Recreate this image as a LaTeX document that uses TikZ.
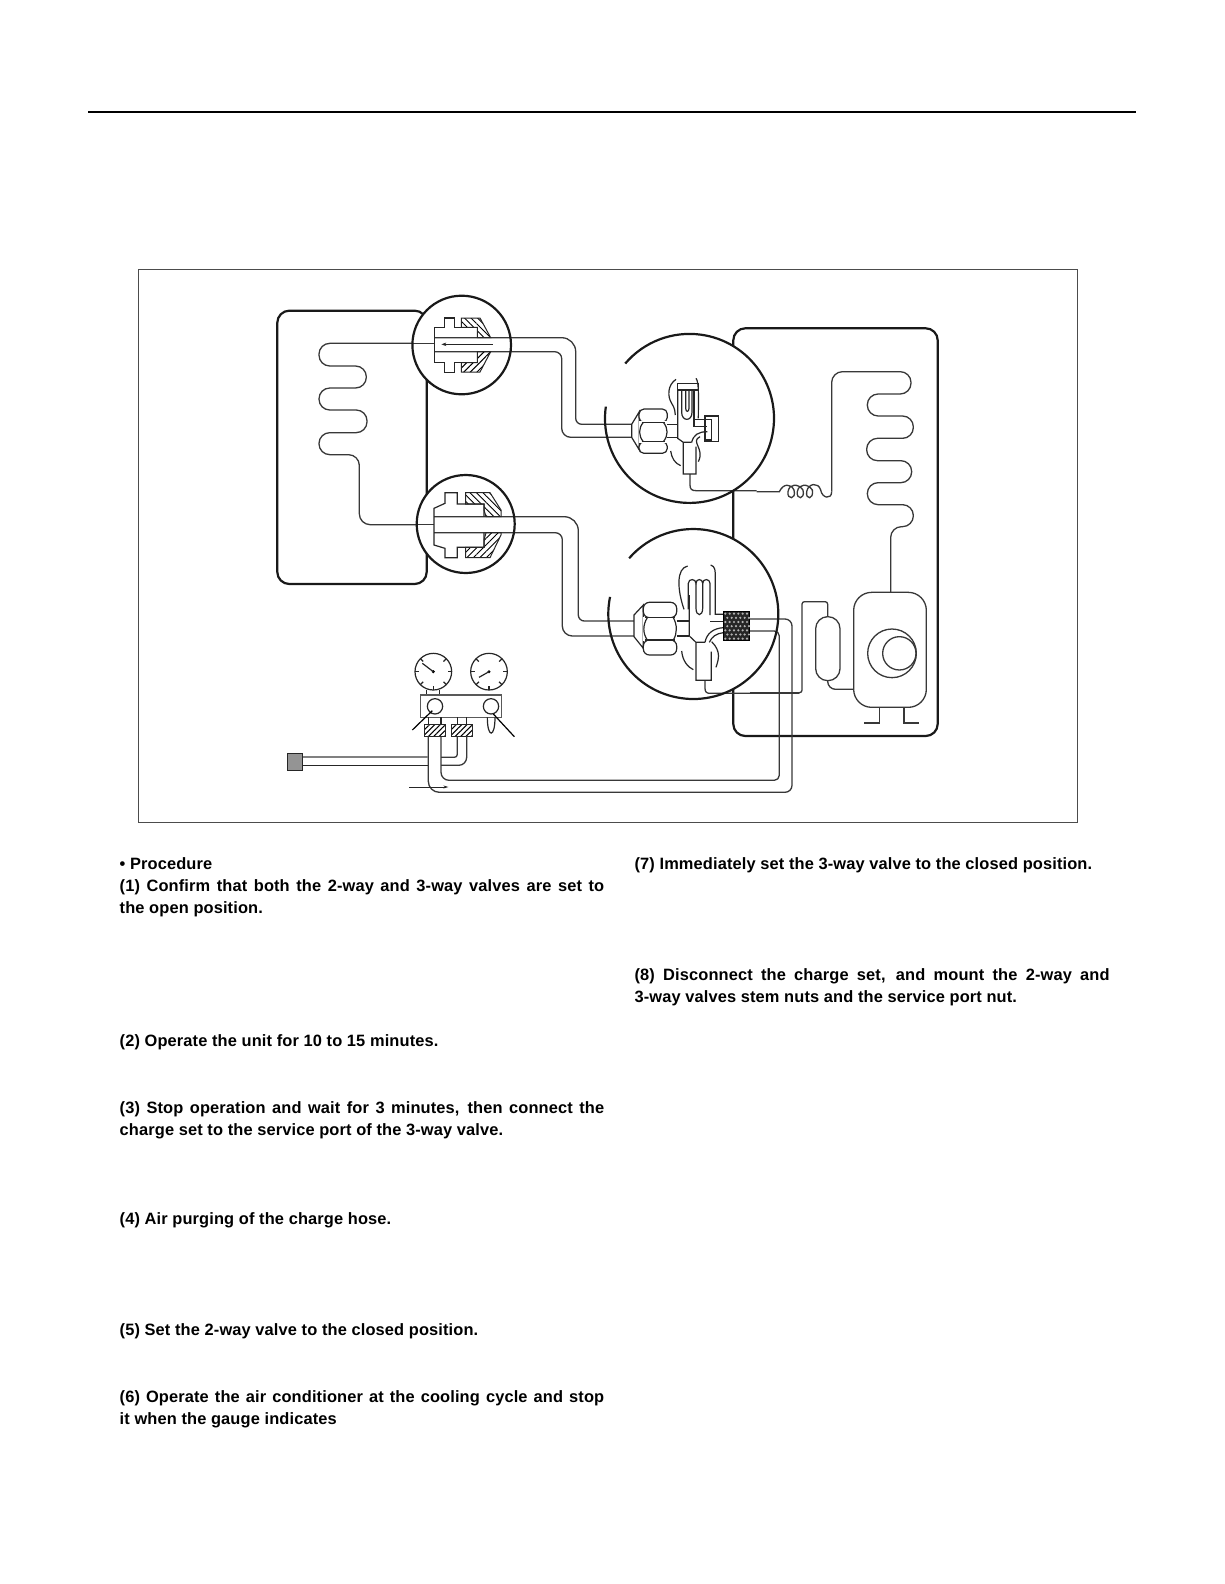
\documentclass[tikz,border=0pt]{standalone}
\usepackage{fontspec}
\setmainfont[LetterSpace=0.8]{Liberation Sans}
\usetikzlibrary{patterns.meta,arrows.meta}
\tikzset{
 txt/.style={anchor=base west,inner sep=0pt,font=\fontsize{16.4}{18}\bfseries},
 thickl/.style={line width=2.2pt,black!90},
 pipe/.style={line width=1.3pt,black!78},
 thin1/.style={line width=1.2pt,black!85},
 hatchA/.style={draw=black!85,line width=1pt,pattern={Lines[angle=-45,distance=4.6pt,line width=.9pt]}},
 hatchB/.style={draw=black!85,line width=1pt,pattern={Lines[angle=45,distance=4.6pt,line width=.9pt]}},
 zoomed/.style={x=.33333pt,y=-.33333pt}
}
\newcommand{\JL}[2]{\hbox to #1pt{\spaceskip=0pt plus 1fil\relax #2}}
\begin{document}
\begin{tikzpicture}[x=1pt,y=-1pt]
\useasboundingbox (0,0) rectangle (1224,1584);
\fill[white] (0,0) rectangle (1224,1584);
\draw[line width=1.8pt] (88,112) -- (1136,112);
\draw[line width=1pt,black!70] (138,269) rectangle (1077,822);
% units
\draw[thickl,rounded corners=12pt] (277.3,310.7) rectangle (426.7,584);
\draw[thickl,rounded corners=12pt] (733.3,328.3) rectangle (937.7,736);
% indoor coil
\begin{scope}[shift={(270,300)},zoomed]
\draw[pipe,rounded corners=10.8pt] (480,130) -- (147,130) -- (147,198) -- (289,198) -- (289,264) -- (147,264) -- (147,330) -- (291,330) -- (291,398) -- (147,398) -- (147,464) -- (268,464) -- (268,674) -- (480,674);
\end{scope}
% outdoor coil and capillary
\begin{scope}[shift={(770,350)},zoomed]
\draw[pipe] (-40,425) -- (28,425) .. controls (40,400) and (62,400) .. (72,420) .. controls (80,450) and (50,450) .. (54,425) .. controls (58,400) and (85,400) .. (99,420) .. controls (106,450) and (78,450) .. (82,425) .. controls (86,400) and (114,400) .. (127,420) .. controls (132,450) and (106,450) .. (110,425) .. controls (114,400) and (145,395) .. (152,420) .. controls (156,445) and (185,450) .. (185,425);
\draw[pipe,rounded corners=10.8pt] (185,425) -- (185,65) -- (423,65) -- (423,132) -- (292,132) -- (292,198) -- (430,198) -- (430,265) -- (290,265) -- (290,332) -- (425,332) -- (425,398) -- (292,398) -- (292,464) -- (430,464) -- (430,530) -- (362,530) -- (362,800);
\end{scope}
% compressor and accumulator
\begin{scope}[shift={(770,570)},zoomed]
\draw[pipe,rounded corners=18pt,fill=white] (251,67) rectangle (469,412);
\draw[pipe] (366,250) circle[radius=73];
\draw[pipe] (388,250) circle[radius=50];
\draw[pipe] (328,412) -- (328,459) -- (282,459);
\draw[pipe] (402,412) -- (402,459) -- (448,459);
\draw[pipe,rounded corners=12pt,fill=white] (137,140) rectangle (210,332);
\draw[pipe,rounded corners=2.5pt] (173,140) -- (173,95) -- (96,95) -- (96,368) -- (-60,368);
\draw[pipe,rounded corners=8pt] (173,332) -- (173,358) -- (251,358);
\end{scope}
% circles fill
\fill[white] (461.7,345) circle[radius=49.3];
\fill[white] (465.7,524) circle[radius=49];
\fill[white] (689.5,418.4) circle[radius=84.5];
\fill[white] (693.3,614) circle[radius=85];
% coil stubs inside the small circles
\draw[pipe] (405,343.5) -- (434.7,343.5);
\draw[pipe] (405,524.5) -- (434,524.5);
% capillary pipe in c3, line pipe in c4
\begin{scope}[shift={(590,325)},zoomed]
\draw[pipe] (300,447) -- (300,480) .. controls (300,492) and (305,497) .. (318,497) -- (500,497);
\end{scope}
\begin{scope}[shift={(590,520)},zoomed]
\draw[pipe] (345,481) -- (345,505) .. controls (345,516) and (350,520) .. (360,520) -- (628,520);
\end{scope}
% interconnect pipes
\draw[pipe,rounded corners=14pt] (434.7,337.7) -- (575.7,337.7) [rounded corners=6pt] -- (575.7,424.3) -- (631.7,424.3);
\draw[pipe,rounded corners=7pt] (434.7,351.7) -- (561.7,351.7) [rounded corners=9pt] -- (561.7,437.3) -- (631.7,437.3);
\draw[pipe,rounded corners=14pt] (434,516.7) -- (578.3,516.7) [rounded corners=6pt] -- (578.3,621) -- (634,621);
\draw[pipe,rounded corners=7pt] (434,532.7) -- (562.3,532.7) [rounded corners=10pt] -- (562.3,636) -- (634,636);
% long hoses
\draw[pipe,rounded corners=5pt] (749,631) -- (779.3,631) -- (779.3,780.3) [rounded corners=8pt] -- (441,780.3) -- (441,736);
\draw[pipe,rounded corners=7pt] (749,619) -- (792,619) -- (792,792.3) [rounded corners=11pt] -- (428.3,792.3) -- (428.3,736);
% fitting c1
\begin{scope}[shift={(400,285)},zoomed]
\draw[hatchA] (184,99) -- (240,99) -- (272,158) -- (232,158) -- (232,127) -- (184,127) -- cycle;
\draw[hatchB] (184,261) -- (240,261) -- (272,200) -- (232,200) -- (232,233) -- (184,233) -- cycle;
\draw[thin1] (232,158) -- (232,127) -- (163,127) -- (163,99) -- (133,99) -- (133,127) -- (104,127) -- (104,233) -- (133,233) -- (133,262) -- (163,262) -- (163,233) -- (232,233) -- (232,200);
\draw[thin1,-{Stealth[length=5pt,width=3.5pt]}] (278,178) -- (124,178);
\end{scope}
% fitting c2
\begin{scope}[shift={(400,460)},zoomed]
\draw[hatchA] (197,98) -- (270,98) -- (303,150) -- (303,170) -- (258,170) -- (252,150) -- (252,132) -- (197,132) -- cycle;
\draw[hatchB] (197,293) -- (270,293) -- (303,225) -- (303,218) -- (258,218) -- (252,240) -- (252,262) -- (197,262) -- cycle;
\draw[thin1] (252,170) -- (252,132) -- (172,132) -- (172,98) -- (135,98) -- (135,130) -- (102,145) -- (102,255) -- (135,265) -- (135,293) -- (172,293) -- (172,262) -- (252,262) -- (252,218);
\end{scope}
% valve c3
\begin{scope}[shift={(590,325)},zoomed]
\draw[thin1,fill=white] (125,298) -- (125,337) -- (148,375) -- (148,260) -- cycle;
\draw[thin1,fill=white,rounded corners=5pt] (147,252) rectangle (232,292);
\draw[thin1,fill=white,rounded corners=5pt] (147,350) rectangle (232,385);
\fill[white] (147,288) rectangle (232,354);
\draw[thin1] (160,292) .. controls (145,310) and (145,332) .. (160,350);
\draw[thin1] (220,292) .. controls (235,310) and (235,332) .. (220,350);
\draw[thin1] (155,292) -- (225,292) (155,350) -- (225,350);
\draw[thin1] (232,298) -- (263,298) (232,337) -- (263,337);
\draw[thin1] (263,195) -- (263,340) -- (280,352) -- (280,447) -- (318,447) -- (318,365) (280,352) -- (305,352);
\draw[thin1] (262,175) rectangle (325,195);
\draw[thin1] (258,163) .. controls (232,180) and (232,215) .. (245,235) .. controls (255,250) and (255,260) .. (256,270);
\draw[thin1] (318,160) .. controls (328,170) and (325,230) .. (325,280);
\draw[thin1] (275,197) -- (275,262) .. controls (275,290) and (306,290) .. (306,262) -- (306,197);
\draw[thin1] (287,197) -- (287,250) .. controls (287,262) and (297,262) .. (297,250) -- (297,197);
\draw[thin1] (312,195) -- (312,305) -- (352,305);
\draw[thin1] (312,283) -- (365,283) -- (365,345) -- (345,345);
\draw[thin1] (345,273) rectangle (385,350);
\draw[thin1] (352,320) .. controls (325,320) and (310,330) .. (305,352);
\draw[thin1] (330,335) .. controls (300,350) and (345,370) .. (325,410);
\draw[thin1] (242,378) .. controls (245,400) and (255,415) .. (272,422);
\end{scope}
% valve c4
\begin{scope}[shift={(590,520)},zoomed]
\draw[thin1,fill=white] (132,285) -- (132,350) -- (160,385) -- (160,255) -- cycle;
\draw[thin1,fill=white,rounded corners=6pt] (160,247) rectangle (260,293);
\draw[thin1,fill=white,rounded corners=6pt] (160,360) rectangle (260,405);
\fill[white] (160,290) rectangle (260,364);
\draw[thin1] (172,293) .. controls (158,315) and (158,340) .. (172,360);
\draw[thin1] (250,293) .. controls (262,315) and (262,340) .. (250,360);
\draw[thin1] (165,293) -- (255,293) (165,360) -- (255,360);
\draw[thin1] (260,303) -- (298,303) (260,348) -- (298,348);
\draw[thin1] (298,225) -- (298,348) -- (318,367) -- (318,481) -- (364,481) -- (364,395) (318,367) -- (345,367);
\draw[thin1] (295,268) -- (295,190) .. controls (295,175) and (318,175) .. (318,190) .. controls (318,175) and (338,175) .. (338,190) .. controls (338,175) and (360,175) .. (360,190) -- (360,285);
\draw[thin1] (318,190) -- (318,265) .. controls (318,290) and (338,290) .. (338,265) -- (338,190);
\draw[thin1] (293,138) .. controls (258,145) and (262,210) .. (282,268);
\draw[thin1] (362,135) .. controls (376,140) and (376,150) .. (376,175) -- (376,283) -- (400,283);
\draw[thin1] (360,305) -- (400,305);
\draw[thin1] (345,367) .. controls (350,340) and (370,325) .. (400,323);
\draw[thin1] (358,367) .. controls (365,350) and (380,340) .. (400,338);
\draw[thin1] (365,365) .. controls (395,395) and (385,420) .. (378,442);
\draw[thin1] (275,393) .. controls (278,425) and (295,442) .. (310,449);
\draw[fill=black!85,draw=black] (400,273) rectangle (477,361);
\foreach \r in {0,...,6}{\foreach \c in {0,...,5}{
 \pgfmathsetmacro{\xx}{406+\c*13+mod(\r,2)*6}
 \pgfmathsetmacro{\yy}{281+\r*12.5}
 \fill[white!70!black] (\xx,\yy) circle[radius=3.6];}}
\end{scope}
% gauge set
\begin{scope}[shift={(280,640)},zoomed]
\foreach \cx/\nx/\ny in {460/427/70,627/597/112}{
 \draw[thin1] (\cx,95) circle[radius=55];
 \foreach \a in {0,45,90,135,180,225,315}{\draw[thin1] (\cx,95) ++(\a:55) -- ++(\a+180:12);}
 \fill (\cx,95) circle[radius=5];
 \draw[thin1] (\cx,95) -- (\nx,\ny);
}
\draw[thin1] (440,150) -- (440,165) (478,150) -- (478,165);
\draw[line width=1.3pt,black!65] (422,165) rectangle (665,232);
\draw[thin1] (465,199) circle[radius=23];
\draw[thin1] (633,199) circle[radius=23];
\draw[thin1] (622,232) .. controls (622,295) and (645,295) .. (645,232);
\draw[line width=1.2pt] (397,270) -- (457,212);
\draw[line width=1.2pt] (703,290) -- (640,222);
\draw[thin1] (445,232) -- (445,252) (483,232) -- (483,252) (532,232) -- (532,252) (560,232) -- (560,252);
\draw[draw=black!85,line width=.9pt,pattern={Lines[angle=45,distance=3.8pt,line width=1.1pt]}] (433,252) rectangle (495,289);
\draw[draw=black!85,line width=.9pt,pattern={Lines[angle=45,distance=3.8pt,line width=1.1pt]}] (514,252) rectangle (576,289);
\draw[pipe,rounded corners=3pt] (532,289) -- (532,352) -- (483,352);
\draw[pipe,rounded corners=8pt] (560,289) -- (560,376) -- (483,376);
\draw[line width=1.2pt,black!50] (68,351) -- (445,351);
\draw[line width=1.2pt,black!85] (68,376) -- (445,376);
\draw[line width=1pt,black!85,fill=black!42] (23,339) rectangle (68,391);
\draw[line width=.7pt,black!85,-{Stealth[length=5pt,width=3pt]}] (388,441) -- (505,441);
\end{scope}
% circle outlines
\draw[thickl] (461.7,345) circle[radius=49.3];
\draw[thickl] (465.7,524) circle[radius=49];
\draw[thickl] ({689.5+84.5*cos(172)},{418.4-84.5*sin(172)}) arc[start angle=-172,end angle=-499.5,radius=84.5];
\draw[thickl] ({693.3+85*cos(168.4)},{614-85*sin(168.4)}) arc[start angle=-168.4,end angle=-499,radius=85];
% text
\node[txt] (t1) at (119.5,869) {• Procedure};
\node[txt] (t2) at (119.5,891.3) {\JL{484.5}{(1) Confirm that both the 2-way and 3-way valves are set to}};
\node[txt] (t3) at (119.5,913.5) {the open position.};
\node[txt] (t4) at (119.5,1046.8) {(2) Operate the unit for 10 to 15 minutes.};
\node[txt] (t5) at (119.5,1113.5) {\JL{484.5}{(3) Stop operation and wait for 3 minutes, then connect the}};
\node[txt] (t6) at (119.5,1135.7) {charge set to the service port of the 3-way valve.};
\node[txt] (t7) at (119.5,1224.6) {(4) Air purging of the charge hose.};
\node[txt] (t8) at (119.5,1335.7) {(5) Set the 2-way valve to the closed position.};
\node[txt] (t9) at (119.5,1402.4) {\JL{484.5}{(6) Operate the air conditioner at the cooling cycle and stop}};
\node[txt] (t10) at (119.5,1424.6) {it when the gauge indicates};
\node[txt] (t11) at (634.4,869) {(7) Immediately set the 3-way valve to the closed position.};
\node[txt] (t12) at (634.4,980.1) {\JL{475}{(8) Disconnect the charge set, and mount the 2-way and}};
\node[txt] (t13) at (634.4,1002.3) {3-way valves stem nuts and the service port nut.};
\end{tikzpicture}
\end{document}
